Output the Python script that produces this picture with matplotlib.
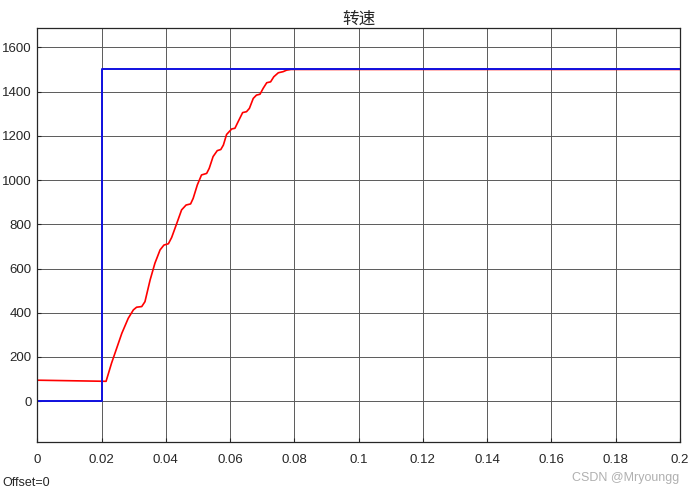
import numpy as np
import matplotlib
matplotlib.use('Agg')
import matplotlib.pyplot as plt

plt.rcParams['font.family'] = ['Liberation Sans', 'Noto Sans CJK SC', 'DejaVu Sans']

# reference speed (step at t=0.02)
t_ref = [0, 0.02, 0.02, 0.2]
n_ref = [0, 0, 1500, 1500]

t_spd = [0, 0.0214, 0.0231, 0.0263, 0.0283, 0.0299, 0.0309, 0.0325, 0.0335,
         0.0351, 0.0366, 0.0382, 0.0394, 0.0408, 0.0418, 0.0434, 0.0449,
         0.0463, 0.0477, 0.0485, 0.0498, 0.0511, 0.0527, 0.0535, 0.0547,
         0.056, 0.0571, 0.0579, 0.0589, 0.0605, 0.0615, 0.0625, 0.0639,
         0.0651, 0.066, 0.0672, 0.0682, 0.0693, 0.0703, 0.0714, 0.0726,
         0.0736, 0.075, 0.0765, 0.0776, 0.079, 0.2]
n_spd = [95, 90, 172, 307, 375, 413, 425, 428, 450,
         548, 624, 684, 706, 712, 740, 804, 865,
         887, 892, 917, 978, 1023, 1030, 1053, 1106,
         1133, 1138, 1158, 1206, 1231, 1234, 1264, 1305,
         1309, 1324, 1369, 1384, 1388, 1415, 1440, 1444,
         1467, 1485, 1490, 1497, 1500, 1500]

xticks = [0, 0.02, 0.04, 0.06, 0.08, 0.1, 0.12, 0.14, 0.16, 0.18, 0.2]
xlabels = ['0', '0.02', '0.04', '0.06', '0.08', '0.1', '0.12', '0.14', '0.16', '0.18', '0.2']
yticks = [0, 200, 400, 600, 800, 1000, 1200, 1400, 1600]

fig = plt.figure(figsize=(7, 4.95), dpi=100)
ax = fig.add_axes([0.0533, 0.1077, 0.9181, 0.8351])

ax.plot(t_spd, n_spd, color='red', lw=1.2)
ax.plot(t_ref, n_ref, color='#1010e0', lw=1.4)

ax.set_xlim(0, 0.2)
ax.set_ylim(-183, 1686)
ax.set_xticks(xticks)
ax.set_xticklabels(xlabels)
ax.set_yticks(yticks)
ax.grid(True, color='#5a5a5a', lw=0.7)
ax.tick_params(labelsize=9.5, direction='in', length=3, colors='#262626')
ax.tick_params(axis='x', pad=9)
ax.tick_params(axis='y', pad=4)
for s in ax.spines.values():
    s.set_color('#262626')
    s.set_linewidth(0.9)

ax.set_title('转速', fontsize=12, pad=3, color='#262626')
fig.text(0.004, 0.024, 'Offset=0', fontsize=9, color='#262626', va='center')
fig.text(0.971, 0.034, 'CSDN @Mryoungg', fontsize=9, color='#b0b0b0', ha='right', va='center')

fig.savefig('out.png', dpi=100)
